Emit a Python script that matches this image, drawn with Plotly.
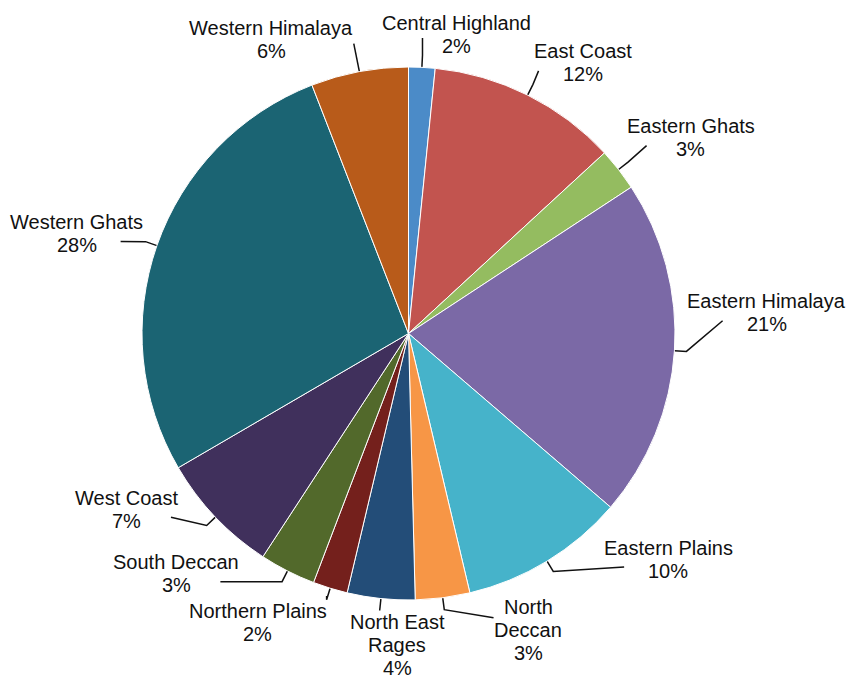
import math
import plotly.graph_objects as go

# ---- data ----
regions = ["Central Highland", "East Coast", "Eastern Ghats", "Eastern Himalaya",
           "Eastern Plains", "North Deccan", "North East Rages", "Northern Plains",
           "South Deccan", "West Coast", "Western Ghats", "Western Himalaya"]
shares = [1.6, 11.55, 2.6, 20.55, 10.0, 3.3, 4.1, 2.1, 3.4, 7.4, 27.5, 5.9]
colors = ["#4b8bc8", "#c2544f", "#94bc60", "#7b69a6", "#46b3ca", "#f79646",
          "#234d78", "#74201c", "#52692b", "#40305c", "#1b6473", "#b85b1a"]
wrapped = {"North Deccan": ["North", "Deccan"], "North East Rages": ["North East", "Rages"]}

# ---- label layout (angular nudge of each label from its slice middle, degrees) ----
label_nudge = [6.3, 6.2, 3.2, -7.0, -17.7, -14.6, -3.9, 10.4, 17.0, 11.6, -2.5, -14.4]

# ---- layout constants ----
W, H = 854, 688
CX, CY, R = 408.5, 333.5, 266.5
FS = 20
LINE_H = 23
CHAR_W = 10.2
GAP = 10
TICK = 12
FONT = dict(family="Arial, Liberation Sans, sans-serif", size=FS, color="#111111")

total = sum(shares)
mids = []
cum = 0.0
for v in shares:
    mids.append((cum + v / 2) / total * 360.0)
    cum += v

label_lines, boxes = [], []
for name, v in zip(regions, shares):
    lines = list(wrapped.get(name, [name])) + [f"{v / total:.0%}"]
    label_lines.append(lines)
    boxes.append((max(len(s) for s in lines) * CHAR_W, len(lines) * LINE_H))


def box_dist(d, th, hw, hh):
    # distance from pie centre to the nearest point of a label box centred at distance d
    x, y = d * math.sin(th), d * math.cos(th)
    nx = max(abs(x) - hw, 0.0)
    ny = max(abs(y) - hh, 0.0)
    return math.hypot(nx, ny)


def center_of(i, ang):
    th = math.radians(ang)
    w, h = boxes[i]
    lo, hi = R, R + 400
    for _ in range(60):
        mid = (lo + hi) / 2
        if box_dist(mid, th, w / 2, h / 2) < R + GAP:
            lo = mid
        else:
            hi = mid
    d = hi
    return CX + d * math.sin(th), CY - d * math.cos(th)


fig = go.Figure()
fig.add_trace(go.Pie(
    labels=regions, values=shares, sort=False, direction="clockwise", rotation=0,
    marker=dict(colors=colors, line=dict(color="white", width=1)),
    textinfo="none", hoverinfo="label+percent", showlegend=False,
    domain=dict(x=[(CX - R) / W, (CX + R) / W], y=[(H - CY - R) / H, (H - CY + R) / H]),
))

annotations = []
n = len(regions)
for i in range(n):
    la = mids[i] + label_nudge[i]
    cx, cy = center_of(i, la)
    thm = math.radians(mids[i])
    p0 = (CX + R * math.sin(thm), CY - R * math.cos(thm))
    p1 = (CX + (R + TICK) * math.sin(thm), CY - (R + TICK) * math.cos(thm))
    w, h = boxes[i]
    lines = label_lines[i]
    top = cy - h / 2 + LINE_H / 2
    line_boxes = []
    for k, s in enumerate(lines):
        ly = top + k * LINE_H
        lw = len(s) * CHAR_W
        line_boxes.append((cx - lw / 2, cx + lw / 2, ly - LINE_H / 2, ly + LINE_H / 2))
        annotations.append(dict(
            x=cx, y=ly, xref="x", yref="y", text=s, showarrow=False,
            xanchor="center", yanchor="middle", font=FONT,
        ))
    sl = math.sin(math.radians(la))
    if abs(sl) > 0.5 and len(lines) == 2:
        sgn = 1 if sl > 0 else -1
        p2 = (cx - sgn * min(w / 2 + 8, 44), cy + 8)
    else:
        best = None
        for (x0, x1, y0, y1) in line_boxes:
            qx = min(max(p1[0], x0), x1)
            qy = min(max(p1[1], y0), y1)
            d = math.hypot(p1[0] - qx, p1[1] - qy)
            if best is None or d < best[0]:
                best = (d, qx, qy)
        d, qx, qy = best
        if d > 0:
            qx += 4 * (p1[0] - qx) / d
            qy += 4 * (p1[1] - qy) / d
        p2 = (qx, qy)
    fig.add_trace(go.Scatter(
        x=[p0[0], p1[0], p2[0]], y=[p0[1], p1[1], p2[1]], mode="lines",
        line=dict(color="#111111", width=1.5), hoverinfo="skip", showlegend=False,
    ))

fig.update_layout(
    width=W, height=H, margin=dict(l=0, r=0, t=0, b=0),
    paper_bgcolor="white", plot_bgcolor="rgba(0,0,0,0)",
    xaxis=dict(range=[0, W], visible=False, fixedrange=True),
    yaxis=dict(range=[H, 0], visible=False, fixedrange=True),
    annotations=annotations,
)

fig.write_html("out.html")
